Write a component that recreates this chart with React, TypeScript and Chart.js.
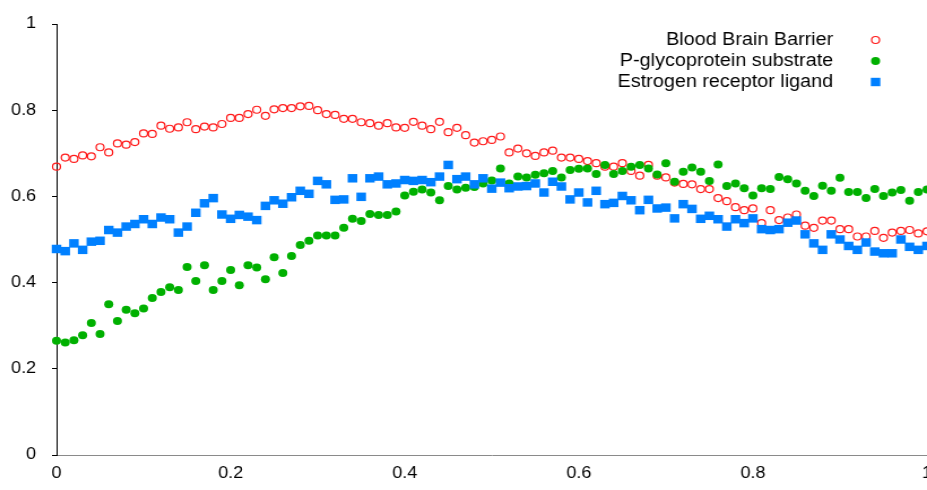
import React, { useEffect, useRef } from 'react';
import { Chart, registerables } from 'chart.js';

Chart.register(...registerables);

// ---- data ----
const xValues = [
  0, 0.01, 0.02, 0.03, 0.04, 0.05, 0.06, 0.07, 0.08, 0.09,
  0.1, 0.11, 0.12, 0.13, 0.14, 0.15, 0.16, 0.17, 0.18, 0.19,
  0.2, 0.21, 0.22, 0.23, 0.24, 0.25, 0.26, 0.27, 0.28, 0.29,
  0.3, 0.31, 0.32, 0.33, 0.34, 0.35, 0.36, 0.37, 0.38, 0.39,
  0.4, 0.41, 0.42, 0.43, 0.44, 0.45, 0.46, 0.47, 0.48, 0.49,
  0.5, 0.51, 0.52, 0.53, 0.54, 0.55, 0.56, 0.57, 0.58, 0.59,
  0.6, 0.61, 0.62, 0.63, 0.64, 0.65, 0.66, 0.67, 0.68, 0.69,
  0.7, 0.71, 0.72, 0.73, 0.74, 0.75, 0.76, 0.77, 0.78, 0.79,
  0.8, 0.81, 0.82, 0.83, 0.84, 0.85, 0.86, 0.87, 0.88, 0.89,
  0.9, 0.91, 0.92, 0.93, 0.94, 0.95, 0.96, 0.97, 0.98, 0.99,
  1,
];

const bloodBrainBarrier = [
  0.669, 0.690, 0.687, 0.695, 0.693, 0.714, 0.702, 0.723, 0.720, 0.726,
  0.746, 0.745, 0.764, 0.757, 0.760, 0.772, 0.756, 0.762, 0.760, 0.768,
  0.782, 0.782, 0.791, 0.801, 0.787, 0.802, 0.805, 0.805, 0.809, 0.810,
  0.800, 0.791, 0.789, 0.780, 0.780, 0.772, 0.770, 0.764, 0.770, 0.760,
  0.759, 0.773, 0.764, 0.756, 0.773, 0.749, 0.759, 0.742, 0.725, 0.728,
  0.731, 0.739, 0.702, 0.711, 0.700, 0.694, 0.702, 0.706, 0.690, 0.690,
  0.687, 0.682, 0.677, 0.669, 0.669, 0.677, 0.659, 0.648, 0.673, 0.648,
  0.644, 0.632, 0.629, 0.628, 0.617, 0.617, 0.596, 0.589, 0.575, 0.568,
  0.572, 0.538, 0.568, 0.545, 0.551, 0.558, 0.532, 0.527, 0.544, 0.544,
  0.524, 0.524, 0.507, 0.507, 0.520, 0.504, 0.516, 0.520, 0.522, 0.514,
  0.519,
];

const pgpSubstrate = [
  0.265, 0.261, 0.266, 0.278, 0.306, 0.281, 0.350, 0.311, 0.337, 0.329,
  0.340, 0.364, 0.378, 0.389, 0.383, 0.436, 0.404, 0.440, 0.383, 0.404,
  0.429, 0.394, 0.440, 0.435, 0.408, 0.459, 0.422, 0.462, 0.487, 0.497,
  0.509, 0.509, 0.509, 0.527, 0.548, 0.543, 0.559, 0.557, 0.557, 0.565,
  0.602, 0.611, 0.616, 0.609, 0.591, 0.624, 0.616, 0.620, 0.622, 0.630,
  0.637, 0.665, 0.630, 0.646, 0.644, 0.650, 0.654, 0.659, 0.644, 0.661,
  0.664, 0.665, 0.652, 0.673, 0.652, 0.659, 0.669, 0.673, 0.665, 0.651,
  0.677, 0.634, 0.657, 0.667, 0.657, 0.636, 0.674, 0.624, 0.630, 0.619,
  0.602, 0.619, 0.617, 0.645, 0.640, 0.630, 0.613, 0.601, 0.625, 0.613,
  0.643, 0.610, 0.610, 0.596, 0.617, 0.601, 0.609, 0.615, 0.590, 0.610,
  0.616,
];

const estrogenLigand = [
  0.478, 0.473, 0.491, 0.476, 0.495, 0.497, 0.522, 0.516, 0.530, 0.536,
  0.547, 0.536, 0.551, 0.547, 0.516, 0.530, 0.562, 0.584, 0.596, 0.558,
  0.548, 0.557, 0.553, 0.545, 0.578, 0.591, 0.583, 0.598, 0.613, 0.606,
  0.636, 0.628, 0.592, 0.593, 0.642, 0.599, 0.642, 0.646, 0.628, 0.630,
  0.638, 0.636, 0.638, 0.633, 0.646, 0.673, 0.640, 0.646, 0.628, 0.642,
  0.618, 0.632, 0.619, 0.623, 0.624, 0.630, 0.609, 0.634, 0.623, 0.593,
  0.609, 0.586, 0.613, 0.582, 0.585, 0.601, 0.591, 0.568, 0.592, 0.572,
  0.574, 0.549, 0.582, 0.571, 0.548, 0.555, 0.547, 0.530, 0.547, 0.538,
  0.549, 0.524, 0.522, 0.524, 0.539, 0.544, 0.512, 0.491, 0.476, 0.512,
  0.500, 0.485, 0.476, 0.493, 0.472, 0.468, 0.468, 0.500, 0.483, 0.476,
  0.485,
];

const seriesLabels = ['Blood Brain Barrier', 'P-glycoprotein substrate', 'Estrogen receptor ligand'];
const axisTicks = [0, 0.2, 0.4, 0.6, 0.8, 1];

// ---- layout / style ----
const PLOT_RIGHT = 820; // canvas units, x = 1 sits at the window's right edge
const CANVAS_H = 490;
const STRETCH = 927 / 820;
const FONT_FAMILY = '"Liberation Sans", Arial, Helvetica, sans-serif';
const RED = '#ff1a1a';
const GREEN = '#00b000';
const BLUE = '#0080ff';

const toPoints = (ys: number[]) => ys.map((y, i) => ({ x: xValues[i], y }));

const legendPlugin = {
  id: 'rightLegend',
  afterDraw(chart: any) {
    const ctx = chart.ctx as CanvasRenderingContext2D;
    ctx.save();
    ctx.font = `17.5px ${FONT_FAMILY}`;
    ctx.textAlign = 'right';
    ctx.textBaseline = 'middle';
    ctx.fillStyle = '#000';
    const textRight = 737;
    const markX = 774.5;
    chart.data.datasets.forEach((ds: any, i: number) => {
      const y = 40 + 21 * i;
      ctx.fillText(ds.label, textRight, y + 0.5);
      ctx.beginPath();
      if (i === 0) {
        ctx.arc(markX, y, 3.5, 0, Math.PI * 2);
        ctx.lineWidth = 1.2;
        ctx.strokeStyle = ds.pointBorderColor;
        ctx.stroke();
      } else if (i === 1) {
        ctx.arc(markX, y, 4, 0, Math.PI * 2);
        ctx.fillStyle = ds.pointBackgroundColor;
        ctx.fill();
      } else {
        ctx.fillStyle = ds.pointBackgroundColor;
        ctx.fillRect(markX - 4.2, y - 4.2, 8.4, 8.4);
      }
      ctx.fillStyle = '#000';
    });
    ctx.restore();
  },
};

const setTicks = (scale: any) => {
  scale.ticks = axisTicks.map((v) => ({ value: v }));
};

export default function App() {
  const canvasRef = useRef<HTMLCanvasElement | null>(null);

  useEffect(() => {
    const canvas = canvasRef.current;
    if (!canvas) return;
    canvas.width = PLOT_RIGHT + 10;
    canvas.height = CANVAS_H;
    const chart = new Chart(canvas, {
      type: 'scatter',
      data: {
        datasets: [
          {
            label: seriesLabels[0],
            data: toPoints(bloodBrainBarrier),
            pointStyle: 'circle',
            pointRadius: 3.5,
            pointBorderWidth: 1.2,
            pointBorderColor: RED,
            pointBackgroundColor: 'rgba(255,255,255,0)',
            borderColor: RED,
            backgroundColor: 'rgba(255,255,255,0)',
            order: 3,
            clip: false,
          },
          {
            label: seriesLabels[1],
            data: toPoints(pgpSubstrate),
            pointStyle: 'circle',
            pointRadius: 4,
            pointBorderWidth: 0,
            pointBorderColor: GREEN,
            pointBackgroundColor: GREEN,
            borderColor: GREEN,
            backgroundColor: GREEN,
            order: 2,
            clip: false,
          },
          {
            label: seriesLabels[2],
            data: toPoints(estrogenLigand),
            pointStyle: 'rect',
            pointRadius: 6,
            pointBorderWidth: 0,
            pointBorderColor: BLUE,
            pointBackgroundColor: BLUE,
            borderColor: BLUE,
            backgroundColor: BLUE,
            order: 1,
            clip: false,
          },
        ] as any,
      },
      options: {
        responsive: false,
        maintainAspectRatio: false,
        animation: false,
        devicePixelRatio: 1,
        events: [],
        layout: { padding: { top: 24, left: 0, right: 0, bottom: 0 } },
        font: { family: FONT_FAMILY, size: 16 } as any,
        plugins: {
          legend: { display: false },
          tooltip: { enabled: false },
        },
        scales: {
          x: {
            type: 'linear',
            min: 0,
            max: 1,
            afterBuildTicks: setTicks,
            afterFit: (s: any) => {
              s.paddingRight = 0;
              s.paddingLeft = 0;
              s.height = 35;
            },
            ticks: {
              color: '#000',
              font: { family: FONT_FAMILY, size: 16 },
              padding: 9,
              maxRotation: 0,
              autoSkip: false,
              callback: (v: any) => String(v),
            },
            grid: { display: false, drawTicks: false },
            border: { display: true, color: '#8a8a8a', width: 1 },
          },
          y: {
            type: 'linear',
            min: 0,
            max: 1,
            afterBuildTicks: setTicks,
            afterFit: (s: any) => {
              s.width = 50;
            },
            ticks: {
              color: '#000',
              font: { family: FONT_FAMILY, size: 16 },
              padding: 14,
              callback: (v: any) => String(v),
            },
            grid: {
              display: true,
              drawOnChartArea: false,
              drawTicks: true,
              tickLength: 4,
              color: '#000',
              lineWidth: 1,
            },
            border: { display: true, color: '#000', width: 1 },
          },
        } as any,
      },
      plugins: [legendPlugin],
    });
    // make the plot area end exactly at PLOT_RIGHT (label overhang is cropped by the window)
    const diff = PLOT_RIGHT - chart.chartArea.right;
    if (Math.abs(diff) > 0.5) {
      chart.resize(Math.round(canvas.width + diff), CANVAS_H);
    }
    return () => chart.destroy();
  }, []);

  return (
    <div
      style={{
        position: 'absolute',
        left: 0,
        top: 0,
        width: 927,
        height: 490,
        overflow: 'hidden',
        background: '#fff',
      }}
    >
      <div
        style={{
          width: 900,
          height: CANVAS_H,
          transform: `scaleX(${STRETCH})`,
          transformOrigin: '0 0',
        }}
      >
        <canvas ref={canvasRef} style={{ display: 'block' }} />
      </div>
    </div>
  );
}
